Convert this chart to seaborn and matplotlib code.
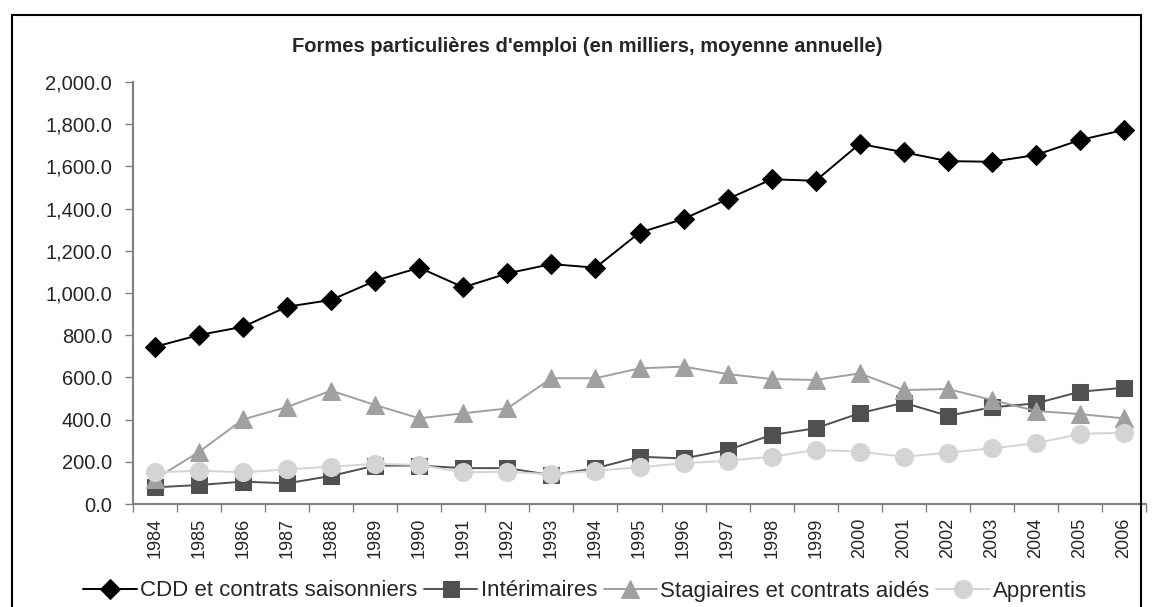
import numpy as np
import pandas as pd
import matplotlib
matplotlib.use("Agg")
import matplotlib.pyplot as plt
from matplotlib.patches import Rectangle
from matplotlib.ticker import FuncFormatter, MultipleLocator
import seaborn as sns

# Data (thousands, annual average)
years = list(range(1984, 2007))
cdd = [745, 801, 840, 935, 967, 1058, 1120, 1027, 1093, 1137, 1120, 1286, 1351,
       1445, 1539, 1532, 1707, 1667, 1625, 1622, 1654, 1725, 1773]
interimaires = [79, 90, 106, 98, 133, 182, 182, 170, 170, 137, 169, 224, 216,
                256, 327, 359, 430, 480, 418, 458, 477, 532, 551]
stagiaires = [118, 247, 401, 460, 537, 469, 406, 430, 453, 596, 596, 643, 651,
              616, 592, 588, 619, 540, 545, 493, 441, 426, 406]
apprentis = [150, 158, 150, 164, 177, 190, 185, 150, 153, 141, 158, 174, 193,
             205, 224, 256, 248, 224, 243, 264, 288, 332, 338]

series_names = ["CDD et contrats saisonniers", "Intérimaires",
                "Stagiaires et contrats aidés", "Apprentis"]
series_values = [cdd, interimaires, stagiaires, apprentis]
colors = ["#000000", "#505050", "#a0a0a0", "#d4d4d4"]
markers = ["D", "s", "^", "o"]
msizes = [10, 12, 13.5, 13]

df = pd.DataFrame({
    "year": np.tile(years, len(series_names)),
    "serie": np.repeat(series_names, len(years)),
    "value": np.concatenate(series_values),
})

sns.set_style("ticks")
plt.rcParams["font.family"] = ["Liberation Sans", "DejaVu Sans"]

fig = plt.figure(figsize=(11.52, 6.07), dpi=100)
ax = fig.add_axes([133 / 1152, 1 - 504 / 607, (1146 - 133) / 1152, (504 - 82) / 607])

for name, col, mk, ms in zip(series_names, colors, markers, msizes):
    sns.lineplot(
        data=df[df["serie"] == name], x="year", y="value",
        color=col, marker=mk, markersize=ms, markeredgecolor=col,
        linewidth=1.4, label=name, ax=ax, legend=False
    )

ax.set_xlim(1983.5, 2006.5)
ax.set_ylim(0, 2000)
ax.yaxis.set_major_locator(MultipleLocator(200))
ax.yaxis.set_major_formatter(FuncFormatter(lambda v, p: f"{v:,.1f}"))
ax.set_xticks(years)
ax.set_xticklabels([str(y) for y in years], rotation=90, fontsize=13)
ax.set_xticks(np.arange(1983.5, 2007, 1), minor=True)
ax.tick_params(axis="x", which="major", length=0, pad=10)
ax.tick_params(axis="x", which="minor", length=6, width=1, color="#808080", direction="out")
ax.tick_params(axis="y", length=6, width=1, color="#808080", pad=9, labelsize=14.5)
ax.set_xlabel("")
ax.set_ylabel("")
sns.despine(ax=ax)
for side in ["left", "bottom"]:
    ax.spines[side].set_color("#808080")
    ax.spines[side].set_linewidth(1.5)

fig.text(0.51, 1 - 46 / 607, "Formes particulières d'emploi (en milliers, moyenne annuelle)",
         ha="center", va="center", fontsize=14.5, fontweight="bold")

handles, labels = ax.get_legend_handles_labels()
fig.legend(handles, labels, loc="center", bbox_to_anchor=(0.508, 1 - 591 / 607),
           ncol=4, frameon=False, fontsize=16, handlelength=2.4,
           handletextpad=0.15, columnspacing=0.3, borderaxespad=0)

fig.add_artist(Rectangle((12 / 1152, -0.01), (1141 - 12) / 1152, 0.985,
                         transform=fig.transFigure, fill=False,
                         edgecolor="black", linewidth=1.5))

fig.savefig("out.png", dpi=100)
